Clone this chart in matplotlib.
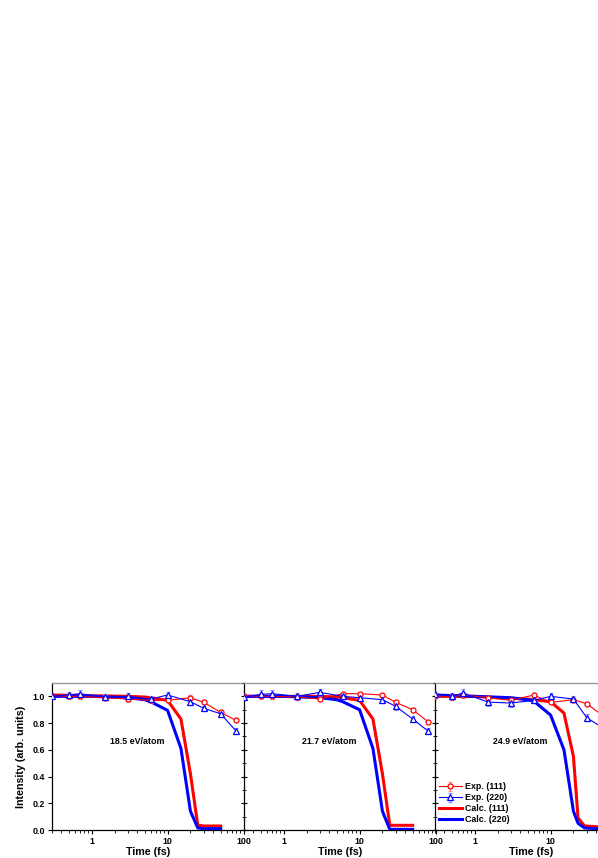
import matplotlib
matplotlib.use("Agg")
import matplotlib.pyplot as plt
from matplotlib.ticker import LogLocator, NullFormatter, FixedLocator, MultipleLocator

plt.rcParams['font.family'] = ['Liberation Sans', 'DejaVu Sans']
plt.rcParams['font.weight'] = 'bold'

# ---------------- data ----------------
panel_labels = ["18.5 eV/atom", "21.7 eV/atom", "24.9 eV/atom"]
legend_labels = ["Exp. (111)", "Exp. (220)", "Calc. (111)", "Calc. (220)"]

t_exp = [0.3, 0.5, 0.7, 1.5, 3, 6, 10, 20, 30, 50, 80]

exp111_a = [1.005, 1.0, 1.0, 0.99, 0.98, 0.97, 0.97, 0.99, 0.955, 0.88, 0.82]
exp220_a = [1.0, 1.01, 1.02, 0.995, 1.0, 0.98, 1.01, 0.96, 0.91, 0.87, 0.74]
exp111_b = [1.005, 1.0, 1.0, 0.995, 0.98, 1.02, 1.02, 1.01, 0.955, 0.90, 0.81]
exp220_b = [0.995, 1.015, 1.02, 1.0, 1.03, 1.0, 0.99, 0.975, 0.925, 0.83, 0.74]
exp111_c = [1.005, 0.995, 1.01, 0.99, 0.97, 1.01, 0.955, 0.975, 0.945, 0.85, 0.78]
exp220_c = [1.02, 1.0, 1.025, 0.957, 0.95, 0.97, 1.0, 0.98, 0.84, 0.76, 0.68]

err111_a = [0.015, 0.02, 0.02, 0.02, 0.02, 0.02, 0.015, 0.02, 0.015, 0.015, 0.015]
err220_a = [0.02, 0.025, 0.025, 0.02, 0.025, 0.025, 0.025, 0.025, 0.02, 0.02, 0.02]
err111_b = [0.015, 0.02, 0.02, 0.02, 0.015, 0.015, 0.015, 0.015, 0.015, 0.015, 0.015]
err220_b = [0.025, 0.03, 0.03, 0.025, 0.025, 0.02, 0.02, 0.025, 0.025, 0.02, 0.02]
err111_c = [0.015, 0.02, 0.02, 0.015, 0.015, 0.015, 0.015, 0.02, 0.015, 0.015, 0.015]
err220_c = [0.02, 0.025, 0.03, 0.03, 0.03, 0.02, 0.025, 0.025, 0.025, 0.02, 0.02]

tc_a = [0.3, 1, 3, 5, 6, 10, 15, 20, 25, 30, 50]
c111_a = [1.01, 1.005, 1.0, 0.995, 0.99, 0.97, 0.83, 0.42, 0.035, 0.03, 0.03]
c220_a = [1.0, 1.0, 0.99, 0.975, 0.96, 0.895, 0.61, 0.14, 0.015, 0.01, 0.01]

tc_b = [0.3, 1, 3, 5, 6, 10, 15, 20, 25, 30, 50]
c111_b = [1.0, 1.0, 1.0, 0.995, 0.99, 0.97, 0.83, 0.42, 0.035, 0.035, 0.035]
c220_b = [1.0, 1.0, 0.99, 0.975, 0.96, 0.90, 0.61, 0.14, 0.005, 0.005, 0.005]

tc_c = [0.3, 1, 3, 5, 6, 10, 15, 20, 23, 28, 40, 100]
c111_c = [1.0, 1.0, 0.985, 0.98, 0.975, 0.96, 0.875, 0.55, 0.09, 0.03, 0.025, 0.025]
c220_c = [1.01, 1.0, 0.99, 0.975, 0.965, 0.86, 0.60, 0.14, 0.05, 0.015, 0.01, 0.01]

panels = [
    (exp111_a, err111_a, exp220_a, err220_a, tc_a, c111_a, c220_a),
    (exp111_b, err111_b, exp220_b, err220_b, tc_b, c111_b, c220_b),
    (exp111_c, err111_c, exp220_c, err220_c, tc_c, c111_c, c220_c),
]

# ---------------- figure ----------------
W, H = 598, 858
fig = plt.figure(figsize=(W / 100, H / 100), dpi=100)

px_left = [52, 244, 435]
px_w = 191.5
px_top, px_bot = 683, 830

RED = '#ff0000'
BLUE = '#0000ff'
FS = 6.4

axes = []
for i, (e111, s111, e220, s220, tc, c111, c220) in enumerate(panels):
    ax = fig.add_axes([px_left[i] / W, (H - px_bot) / H, px_w / W, (px_bot - px_top) / H])
    axes.append(ax)
    ax.set_xscale('log')
    ax.set_xlim(0.3, 100)
    ax.set_ylim(0, 1.1)

    ax.plot(tc, c111, color=RED, lw=2.2, zorder=3, label=legend_labels[2])
    ax.plot(tc, c220, color=BLUE, lw=2.2, zorder=3, label=legend_labels[3])

    ax.errorbar(t_exp, e111, yerr=s111, color=RED, lw=0.8, marker='o', ms=3.6,
                mfc='white', mec=RED, mew=0.9, ecolor='#ff9090', elinewidth=0.8,
                capsize=1.5, capthick=0.8, zorder=4, label=legend_labels[0])
    ax.errorbar(t_exp, e220, yerr=s220, color=BLUE, lw=0.8, marker='^', ms=4.0,
                mfc='white', mec=BLUE, mew=0.9, ecolor='#9090ff', elinewidth=0.8,
                capsize=1.5, capthick=0.8, zorder=4, label=legend_labels[1])

    ax.text(0.445, 0.605, panel_labels[i], transform=ax.transAxes, ha='center', va='center',
            fontsize=FS, fontweight='bold')

    # spines
    ax.spines['right'].set_visible(False)
    ax.spines['top'].set_color('#999999')
    ax.spines['top'].set_linewidth(1.0)
    ax.spines['left'].set_linewidth(0.9)
    ax.spines['bottom'].set_linewidth(0.9)

    # x ticks
    ax.xaxis.set_major_locator(FixedLocator([1, 10, 100] if i < 2 else [1, 10]))
    ax.xaxis.set_major_formatter(plt.FuncFormatter(lambda v, p: f"{v:g}"))
    ax.xaxis.set_minor_locator(LogLocator(base=10, subs=range(2, 10), numticks=20))
    ax.xaxis.set_minor_formatter(NullFormatter())
    ax.tick_params(axis='x', which='major', direction='out', length=3, width=0.8,
                   labelsize=FS, pad=2, top=False)
    ax.tick_params(axis='x', which='minor', direction='out', length=1.8, width=0.6, top=False)

    # y ticks
    ax.yaxis.set_major_locator(MultipleLocator(0.2))
    if i == 0:
        ax.tick_params(axis='y', which='major', direction='out', length=3, width=0.8,
                       labelsize=FS, pad=2)
        ax.yaxis.set_major_formatter(plt.FuncFormatter(lambda v, p: f"{v:.1f}"))
        ax.set_ylabel("Intensity (arb. units)", fontsize=7.7, fontweight='bold', labelpad=5)
    else:
        ax.yaxis.set_minor_locator(MultipleLocator(0.1))
        ax.tick_params(axis='y', which='major', direction='inout', length=5, width=0.8,
                       labelleft=False)
        ax.tick_params(axis='y', which='minor', direction='inout', length=2.5, width=0.6)

    ax.set_xlabel("Time (fs)", fontsize=7.7, fontweight='bold', labelpad=1)
    for lbl in ax.get_xticklabels() + ax.get_yticklabels():
        lbl.set_fontweight('bold')

# legend in panel 3
ax3 = axes[2]
h, l = ax3.get_legend_handles_labels()
order = [l.index(x) for x in legend_labels]
leg = ax3.legend([h[k] for k in order], [l[k] for k in order], loc='lower left',
                 bbox_to_anchor=(0.02, 0.04), frameon=False, fontsize=FS,
                 handlelength=2.6, handletextpad=0.3, labelspacing=0.22,
                 borderaxespad=0, borderpad=0)
for txt in leg.get_texts():
    txt.set_fontweight('bold')

fig.savefig("out.png", dpi=100)
